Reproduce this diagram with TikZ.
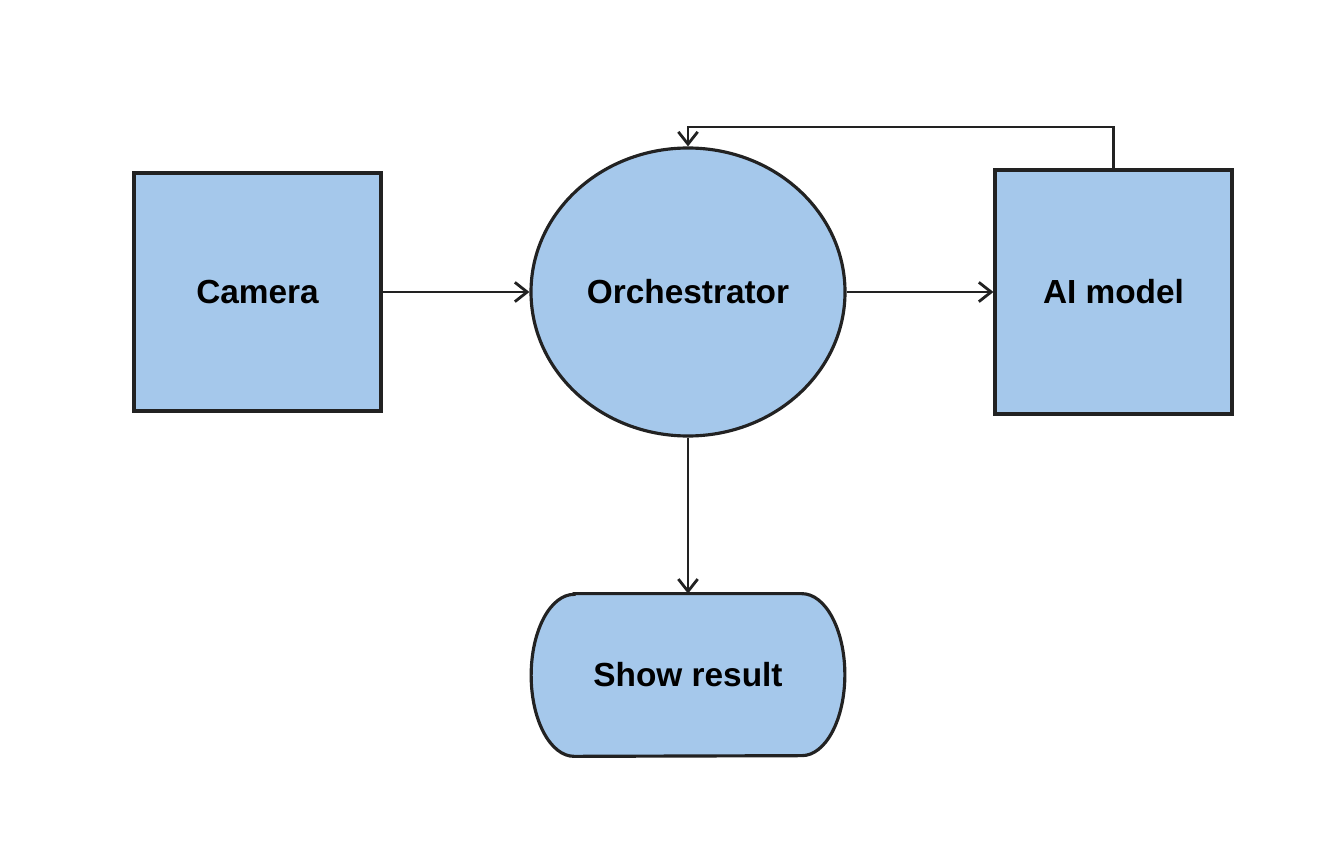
\documentclass[tikz,border=0pt]{standalone}
\usepackage{fontspec}
\setmainfont{Liberation Sans}
\usetikzlibrary{arrows.meta,shapes.geometric,backgrounds}
\definecolor{boxblue}{RGB}{165,200,235}
\definecolor{edgegray}{RGB}{34,34,34}
\tikzset{
    block/.style={draw=edgegray,fill=boxblue,line width=1.8pt},
    label/.style={font=\fontsize{19}{23}\selectfont\bfseries},
    unit/.style={block,label,rectangle,inner sep=0pt},
    hub/.style={block,label,ellipse,inner sep=0pt},
    flow/.style={draw=edgegray,line width=1.6pt,->,>={Straight Barb[length=7pt,width=11pt]}}
}
\begin{document}
\begin{tikzpicture}
\useasboundingbox (0,0) rectangle (26.8,-17.36);
\node[unit,minimum width=4.94cm,minimum height=4.76cm](camera) at (5.15,-5.84){Camera};
\node[hub,minimum width=6.28cm,minimum height=5.76cm](orch) at (13.76,-5.84){Orchestrator};
\node[unit,minimum width=4.74cm,minimum height=4.88cm](ai) at (22.27,-5.84){AI model};
\node[label,minimum width=6.26cm,minimum height=3.24cm,inner sep=0pt](show) at (13.76,-13.5){Show result};
\coordinate (loop) at (13.76,-2.54);
% outline of the terminal shape
\begin{scope}[on background layer]
\draw[block]([xshift=0.86cm]show.north west)--([xshift=-0.86cm]show.north east)
    arc[start angle=90,end angle=-90,x radius=0.86cm,y radius=1.62cm]
    --([xshift=0.86cm]show.south west)
    arc[start angle=270,end angle=90,x radius=0.86cm,y radius=1.62cm]--cycle;
\end{scope}

\draw[flow](camera.east)--(orch.west);
\draw[flow](orch.east)--(ai.west);
\draw[flow](ai.north)|-(loop)--(orch.north);
\draw[flow](orch.south)--(show.north);
\end{tikzpicture}
\end{document}
